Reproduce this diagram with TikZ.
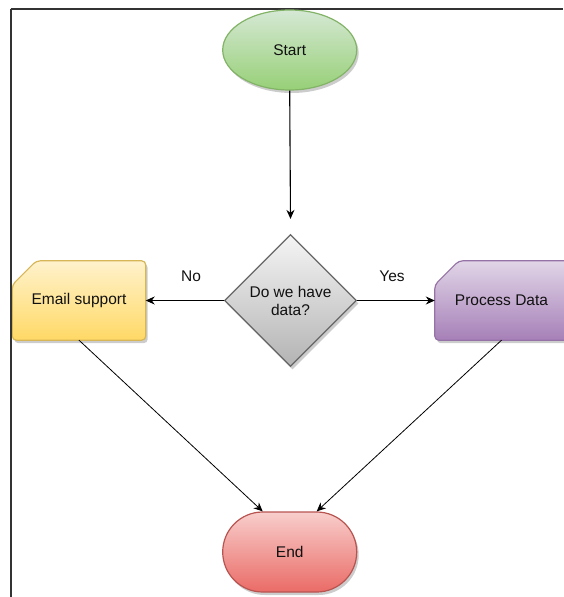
\documentclass[tikz,border=0pt]{standalone}
\usepackage{fontspec}
\setmainfont{Liberation Sans}
\usetikzlibrary{shapes.geometric,shapes.misc,shadows,arrows.meta,backgrounds}

\definecolor{greenTop}{HTML}{D5E8D4}
\definecolor{greenBot}{HTML}{97D077}
\definecolor{greenLine}{HTML}{82B366}
\definecolor{yellowTop}{HTML}{FFF2CC}
\definecolor{yellowBot}{HTML}{FFD966}
\definecolor{yellowLine}{HTML}{D6B656}
\definecolor{purpleTop}{HTML}{E1D5E7}
\definecolor{purpleBot}{HTML}{A680B8}
\definecolor{purpleLine}{HTML}{9673A6}
\definecolor{grayTop}{HTML}{F5F5F5}
\definecolor{grayBot}{HTML}{B3B3B3}
\definecolor{grayLine}{HTML}{666666}
\definecolor{redTop}{HTML}{F8CECC}
\definecolor{redBot}{HTML}{EA6B66}
\definecolor{redLine}{HTML}{B85450}
\definecolor{frameLine}{HTML}{333333}
\definecolor{ink}{HTML}{111111}

% Card-shaped box: top-left corner cut, other corners rounded
\newcommand\cardshape[4]{%
  \path[fill=black,opacity=0.2,transform canvas={xshift=2pt,yshift=-3pt},rounded corners=4pt]
    ([xshift=24pt]#1.north west) -- (#1.north east) -- (#1.south east)
    -- (#1.south west) -- ([yshift=-24pt]#1.north west) -- cycle;
  \path[top color=#2,bottom color=#3,draw=#4,line width=1.2pt,rounded corners=4pt]
    ([xshift=24pt]#1.north west) -- (#1.north east) -- (#1.south east)
    -- (#1.south west) -- ([yshift=-24pt]#1.north west) -- cycle;
}

\begin{document}
\begin{tikzpicture}[x=1pt,y=-1pt,
  font=\fontsize{15.5}{18}\selectfont, text=ink,
  shade/.style={drop shadow={shadow xshift=2pt,shadow yshift=-3pt,fill=black,opacity=0.2},
    line width=1.2pt},
  terminal/.style={shade,ellipse,minimum width=134pt,minimum height=80pt,inner sep=0pt,
    top color=greenTop,bottom color=greenBot,draw=greenLine},
  decision/.style={shade,diamond,minimum width=132pt,minimum height=132pt,inner sep=0pt,
    top color=grayTop,bottom color=grayBot,draw=grayLine,align=center},
  stadium/.style={shade,rounded rectangle,minimum width=134pt,minimum height=80pt,inner sep=0pt,
    top color=redTop,bottom color=redBot,draw=redLine},
  card/.style={minimum width=133pt,minimum height=79pt,inner sep=0pt},
  flow/.style={draw=black,line width=0.8pt,-{Stealth[length=9pt,width=8pt]}},
  mainflow/.style={flow,line width=1.1pt},
  lbl/.style={inner sep=0pt}
]
\useasboundingbox (0,0) rectangle (563,597);
\clip (0,0) rectangle (563,597);

% frame lines
\draw[frameLine,line width=2pt] (10.5,8.5) -- (563,8.5);
\draw[frameLine,line width=2pt] (10.5,8.5) -- (10.5,597);

\node[terminal] (start) at (289.7,50) {Start};
\node[decision] (dec) at (290.5,300.5) {Do we have\\data?};
\node[card] (email) at (79,300.5) {Email support};
\node[card] (proc) at (501.5,300.5) {Process Data};
\node[stadium] (stop) at (289.7,552) {End};

\begin{scope}[on background layer]
  \cardshape{email}{yellowTop}{yellowBot}{yellowLine}
  \cardshape{proc}{purpleTop}{purpleBot}{purpleLine}
\end{scope}

\coordinate (decin) at ([yshift=15pt]dec.north);
\draw[mainflow] (start.south) -- (decin);
\draw[mainflow] (dec.west) -- (email.east);
\draw[mainflow] (dec.east) -- (proc.west);
\draw[flow] (email.south) -- ([xshift=-27pt]stop.north);
\draw[flow] (proc.south) -- ([xshift=27pt]stop.north);

\node[lbl] (no) at (191,276) {No};
\node[lbl] (yes) at (392,276) {Yes};
\end{tikzpicture}
\end{document}
